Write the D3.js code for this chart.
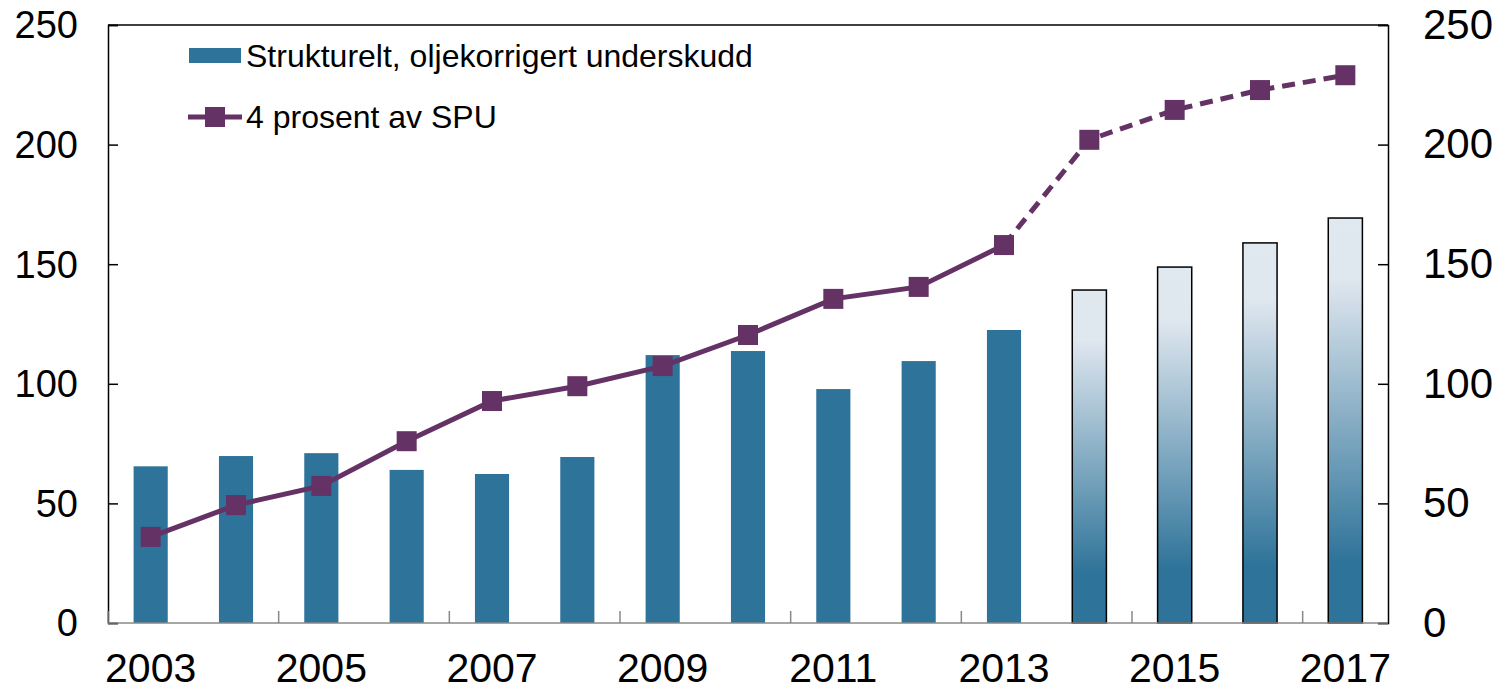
<!DOCTYPE html>
<html>
<head>
<meta charset="utf-8">
<script src="https://cdn.jsdelivr.net/npm/d3@7"></script>
<style>
  body { margin: 0; background: #fff; }
  svg { display: block; font-family: "Liberation Sans", Arial, sans-serif; }
</style>
</head>
<body>
<svg id="chart" width="1503" height="691"></svg>
<script>
// data
var years = [2003, 2004, 2005, 2006, 2007, 2008, 2009, 2010, 2011, 2012, 2013, 2014, 2015, 2016, 2017];
var deficit = [65.5, 69.8, 71, 64, 62.3, 69.4, 112, 113.7, 97.8, 109.5, 122.5, 139.2, 148.8, 158.9, 169.3];
var spu4 = [36, 49.3, 57.3, 76, 92.8, 99, 107.4, 120.4, 135.5, 140.5, 158, 202, 214.5, 222.8, 229];
var firstForecast = 2014;
var yTicks = [0, 50, 100, 150, 200, 250];
var xLabels = [2003, 2005, 2007, 2009, 2011, 2013, 2015, 2017];
var seriesNames = ['Strukturelt, oljekorrigert underskudd', '4 prosent av SPU'];

var barColor = '#2e7399',
    lineColor = '#653266';

var svg = d3.select('#chart');
var margin = {left: 108, right: 115, top: 25, bottom: 68},
    width = 1503 - margin.left - margin.right,
    height = 691 - margin.top - margin.bottom;

var x = d3.scaleBand().domain(years).range([margin.left, margin.left + width]).paddingInner(0.6).paddingOuter(0.3);
var xc = function (d) { return x(d) + x.bandwidth() / 2; };
var y = d3.scaleLinear().domain([0, 250]).range([margin.top + height, margin.top]);

// gradient for forecast bars
var grad = svg.append('defs').append('linearGradient')
    .attr('id', 'fc').attr('x1', 0).attr('y1', 0).attr('x2', 0).attr('y2', 1);
grad.append('stop').attr('offset', '0%').attr('stop-color', '#e0e8f0');
grad.append('stop').attr('offset', '15%').attr('stop-color', '#dfe7ef');
grad.append('stop').attr('offset', '85%').attr('stop-color', barColor);
grad.append('stop').attr('offset', '100%').attr('stop-color', barColor);

// bars
var barData = years.map(function (d, i) { return {year: d, v: deficit[i]}; });
svg.append('g').selectAll('rect')
    .data(barData)
    .enter().append('rect')
    .attr('x', function (d) { return x(d.year); })
    .attr('y', function (d) { return y(d.v); })
    .attr('width', x.bandwidth())
    .attr('height', function (d) { return y(0) - y(d.v); })
    .attr('fill', function (d) { return d.year >= firstForecast ? 'url(#fc)' : barColor; })
    .attr('stroke', function (d) { return d.year >= firstForecast ? '#000' : 'none'; })
    .attr('stroke-width', 1.5);

// frame: top and left/right axes
svg.append('line')
    .attr('x1', margin.left).attr('x2', margin.left + width)
    .attr('y1', margin.top).attr('y2', margin.top)
    .attr('stroke', '#000').attr('stroke-width', 1.5);

var yLeft = svg.append('g').attr('transform', 'translate(' + margin.left + ',0)')
    .call(d3.axisRight(y).tickValues(yTicks).tickSize(10).tickFormat(''));
var yRight = svg.append('g').attr('transform', 'translate(' + (margin.left + width) + ',0)')
    .call(d3.axisLeft(y).tickValues(yTicks).tickSize(10).tickFormat(''));
[yLeft, yRight].forEach(function (g) {
    g.select('.domain').attr('stroke', '#000').attr('stroke-width', 1.5);
    g.selectAll('.tick line').attr('stroke', '#000').attr('stroke-width', 1.5);
});

// y tick labels
svg.append('g').selectAll('text').data(yTicks).enter().append('text')
    .attr('x', 78).attr('y', function (d) { return y(d); }).attr('dy', '0.35em')
    .attr('text-anchor', 'end').attr('font-size', 38).text(function (d) { return d; });
svg.append('g').selectAll('text').data(yTicks).enter().append('text')
    .attr('x', 1423).attr('y', function (d) { return y(d) - 1; }).attr('dy', '0.35em')
    .attr('text-anchor', 'start').attr('font-size', 42).text(function (d) { return d; });

// x axis (gray), ticks every second category boundary
svg.append('line')
    .attr('x1', margin.left).attr('x2', margin.left + width)
    .attr('y1', y(0)).attr('y2', y(0))
    .attr('stroke', '#888').attr('stroke-width', 1.5);
var step = x.step();
svg.append('g').selectAll('line')
    .data(years.filter(function (d, i) { return i % 2 === 0; }))
    .enter().append('line')
    .attr('x1', function (d) { return xc(d) - step / 2; })
    .attr('x2', function (d) { return xc(d) - step / 2; })
    .attr('y1', y(0)).attr('y2', y(0) - 12)
    .attr('stroke', '#888').attr('stroke-width', 1.5);

svg.append('g').selectAll('text').data(xLabels).enter().append('text')
    .attr('x', function (d) { return xc(d); }).attr('y', 682)
    .attr('text-anchor', 'middle').attr('font-size', 41).text(function (d) { return d; });

// line series
var pts = years.map(function (d, i) { return {year: d, v: spu4[i]}; });
var line = d3.line().x(function (d) { return xc(d.year); }).y(function (d) { return y(d.v); });
var solidPts = pts.filter(function (d) { return d.year < firstForecast; }),
    dashPts = pts.filter(function (d) { return d.year >= firstForecast - 1; });
svg.append('path').datum(solidPts).attr('d', line)
    .attr('fill', 'none').attr('stroke', lineColor).attr('stroke-width', 5);
svg.append('path').datum(dashPts).attr('d', line)
    .attr('fill', 'none').attr('stroke', lineColor).attr('stroke-width', 5)
    .attr('stroke-dasharray', '13,8');
svg.append('g').selectAll('rect').data(pts).enter().append('rect')
    .attr('x', function (d) { return xc(d.year) - 10; })
    .attr('y', function (d) { return y(d.v) - 10; })
    .attr('width', 20).attr('height', 20)
    .attr('fill', lineColor);

// legend
var lg = svg.append('g');
lg.append('rect').attr('x', 189).attr('y', 48).attr('width', 52).attr('height', 15).attr('fill', barColor);
lg.append('text').attr('x', 246).attr('y', 67).attr('font-size', 32).text(seriesNames[0]);
lg.append('line').attr('x1', 188).attr('x2', 242).attr('y1', 117).attr('y2', 117)
    .attr('stroke', lineColor).attr('stroke-width', 5);
lg.append('rect').attr('x', 205).attr('y', 107).attr('width', 20).attr('height', 20).attr('fill', lineColor);
lg.append('text').attr('x', 246).attr('y', 128).attr('font-size', 32).text(seriesNames[1]);
</script>
</body>
</html>
